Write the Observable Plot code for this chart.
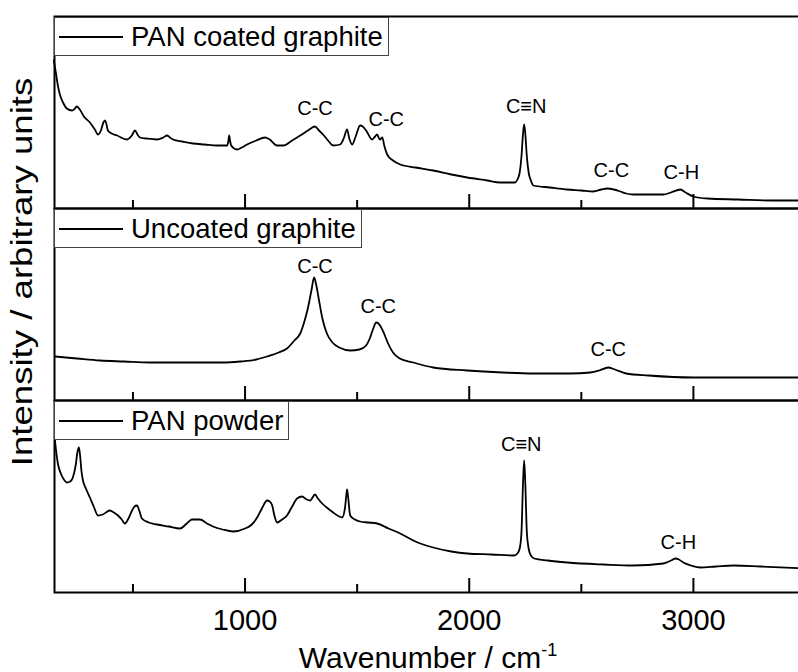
<!DOCTYPE html>
<html>
<head>
<meta charset="utf-8">
<script src="https://cdn.jsdelivr.net/npm/d3@7"></script>
<script src="https://cdn.jsdelivr.net/npm/@observablehq/plot@0.6"></script>
<style>
  html, body { margin: 0; padding: 0; background: #fff; overflow: hidden; }
  #wrap { position: relative; width: 798px; height: 672px; overflow: hidden; font-family: Arial, "Liberation Sans", sans-serif; color: #000; }
  #chart { position: absolute; left: 0; top: 0; width: 808px; }
  #chart svg { max-width: none !important; }
  .legend { position: absolute; left: 54px; height: 39px; box-sizing: border-box; border: 1px solid #444; background: #fff;
            display: flex; align-items: center; padding: 0 5px 0 4px; font-size: 27.5px; white-space: nowrap; }
  .legend .swatch { display: inline-block; width: 64px; height: 2px; background: #000; margin-right: 8px; }
  #xlabel { position: absolute; left: 428px; top: 643px; transform: translateX(-50%); font-size: 30px; line-height: 30px; white-space: nowrap; }
  #xlabel sup { font-size: 18px; vertical-align: 12px; line-height: 0; }
  #ylabel { position: absolute; left: 22px; top: 272px; transform: translate(-50%, -50%) rotate(-90deg) scaleX(1.22); font-size: 30px; line-height: 30px; white-space: nowrap; }
</style>
</head>
<body>
<div id="wrap">
  <div id="chart"></div>
  <div id="xlabel">Wavenumber / cm<sup>-1</sup></div>
  <div id="ylabel">Intensity / arbitrary units</div>
</div>
<script>
// ---- data ----
const sampleNames = ["PAN coated graphite", "Uncoated graphite", "PAN powder"];

const coatedWn = [147,156,165,174,188,205,228,241,250,263,281,308,330,344,357,368,375,382,388,405,429,473,495,509,520,531,560,607,635,652,665,679,720,768,820,875,920,926,929,933,938,964,985,1009,1050,1089,1110,1143,1170,1210,1246,1280,1312,1330,1348,1370,1393,1424,1440,1455,1465,1478,1495,1513,1525,1540,1567,1580,1589,1598,1603,1612,1622,1634,1660,1692,1760,1839,1920,1991,2080,2138,2205,2215,2225,2233,2240,2245,2250,2257,2265,2275,2286,2360,2437,2500,2553,2590,2616,2645,2674,2700,2732,2866,2900,2942,2965,3000,3062,3200,3350,3500];
const coatedI  = [148,136,123,114,106,100,98,100,102,99,92,86,79,74,78,86,88,84,78,75,73,69,73,78,74,71,70,69,71,73,71,69,67,65,64,63,63,68,73,68,63,59,61,64,68,71,69,63,63,68,73,78,82,78,74,68,63,64,70,79,70,64,73,83,82,78,69,72,74,70,69,71,62,54,48,44,41,38,34,31,28,26,26,29,36,52,75,84,75,52,36,28,23,21,19,18,17,19,20,19,17,15,14,14,16,19,16,12,10,9,8,8];

const uncoatedWn = [152,250,353,460,576,700,799,900,978,1050,1098,1150,1187,1220,1246,1266,1281,1296,1308,1318,1330,1345,1365,1390,1420,1470,1510,1540,1558,1572,1585,1595,1605,1620,1638,1660,1690,1750,1839,1991,2150,2286,2450,2540,2580,2620,2650,2700,2800,3000,3250,3500];
const uncoatedI  = [44,42,40,39,38,38,38,38,39,41,44,48,52,60,67,80,93,110,123,115,100,82,67,58,53,50,51,55,63,72,78,77,74,67,57,48,42,38,33,30,28,27,27,28,30,33,31,27,25,23,23,23];

const powderWn = [152,158,165,180,195,205,220,232,245,252,259,265,270,277,290,308,325,344,365,397,415,433,450,464,480,496,507,518,528,540,570,607,660,710,740,763,799,830,857,900,946,1000,1030,1054,1075,1098,1110,1121,1132,1143,1165,1187,1210,1232,1254,1275,1290,1312,1325,1344,1370,1393,1420,1433,1446,1452,1455,1460,1469,1490,1513,1550,1589,1640,1692,1760,1839,1920,1991,2100,2200,2215,2225,2233,2240,2245,2250,2257,2265,2275,2290,2350,2437,2600,2732,2866,2900,2920,2935,2955,2990,3031,3100,3179,3300,3500];
const powderI  = [152,140,129,118,112,110,111,115,128,140,145,135,122,112,104,95,86,77,78,82,80,77,73,69,74,82,86,87,82,74,70,68,66,64,69,73,73,69,66,63,61,64,68,75,84,92,91,87,76,70,73,77,86,94,96,93,92,98,94,89,84,80,76,75,85,98,103,95,77,73,71,70,69,64,59,51,45,41,39,38,37,39,44,60,110,132,110,60,44,37,34,32,30,28,27,29,32,34,33,30,27,25,26,27,26,24];

const majorTicks = [1000, 2000, 3000];
const minorTicks = [500, 1500, 2500, 3500];

const annText   = ["C-C", "C-C", "C\u2261N", "C-C", "C-H", "C-C", "C-C", "C-C", "C\u2261N", "C-H"];
const annWn     = [1312, 1630, 2254, 2634, 2946, 1312, 1594, 2620, 2232, 2933];
const annI      = [100, 89, 102, 38, 36, 134, 94, 51, 148, 50];
const annSample = [0, 0, 0, 0, 0, 1, 1, 1, 2, 2];

// ---- build tables ----
const seriesList = [
  {name: sampleNames[0], wn: coatedWn, int: coatedI},
  {name: sampleNames[1], wn: uncoatedWn, int: uncoatedI},
  {name: sampleNames[2], wn: powderWn, int: powderI}
];
const rows = [];
seriesList.forEach(s => s.wn.forEach((w, i) => rows.push({sample: s.name, wn: w, intensity: s.int[i]})));
const anns = annText.map((t, i) => ({text: t, wn: annWn[i], intensity: annI[i], sample: sampleNames[annSample[i]]}));

const marginTop = 16, marginBottom = 80, height = 672;
const font = "Arial, 'Liberation Sans', sans-serif";

const chart = Plot.plot({
  width: 808,
  height,
  marginLeft: 54,
  marginRight: 3,
  marginTop,
  marginBottom,
  style: {fontFamily: font, color: "#000", background: "transparent", maxWidth: "none"},
  x: {domain: [150, 3500], label: null},
  y: {domain: [0, 192], axis: null},
  fy: {domain: sampleNames, padding: 0, axis: null, label: null},
  marks: [
    Plot.line(rows, {x: "wn", y: "intensity", fy: "sample", stroke: "#000", strokeWidth: 1.8, strokeLinejoin: "round", curve: "monotone-x"}),
    Plot.text(anns, {x: "wn", y: "intensity", fy: "sample", text: "text", fontSize: 20, fill: "#000"}),
    Plot.axisX({ticks: majorTicks, tickSize: -14, fill: "none", stroke: "#000", strokeWidth: 2, facetAnchor: null, label: null}),
    Plot.axisX({ticks: minorTicks, tickSize: -8, fill: "none", stroke: "#000", strokeWidth: 2, facetAnchor: null, label: null}),
    Plot.axisX({ticks: majorTicks, tickSize: 0, tickPadding: 17, fontSize: 29, fill: "#000", tickFormat: d => String(d), label: null}),
    Plot.frame({stroke: "#000", strokeWidth: 2})
  ]
});
document.getElementById("chart").appendChild(chart);

// legends (one per panel, top-left of each facet)
const facetH = (height - marginTop - marginBottom) / sampleNames.length;
const wrap = document.getElementById("wrap");
sampleNames.forEach((name, i) => {
  const lg = document.createElement("div");
  lg.className = "legend";
  lg.style.top = (marginTop + i * facetH + 1) + "px";
  const sw = document.createElement("span");
  sw.className = "swatch";
  const tx = document.createElement("span");
  tx.textContent = name;
  lg.appendChild(sw);
  lg.appendChild(tx);
  wrap.appendChild(lg);
});
</script>
</body>
</html>
